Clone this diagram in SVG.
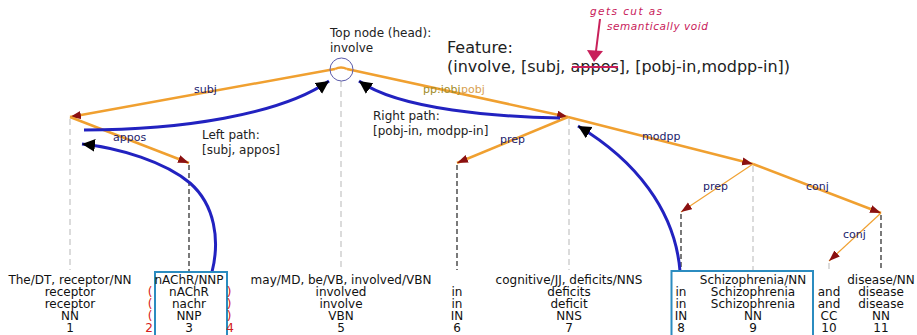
<svg xmlns="http://www.w3.org/2000/svg" width="917" height="335" viewBox="0 0 917 335">
  <style>
    text { font-family: "DejaVu Sans", "Liberation Sans", sans-serif; }
    .tok { font-size: 12px; fill: #111; text-anchor: middle; }
    .note { font-size: 12px; fill: #222; }
    .lbl { font-size: 11px; fill: #1c1c6c; }
    .paren { font-size: 12px; fill: #d42020; text-anchor: middle; }
    .dep { fill: none; stroke: #f0a030; stroke-width: 2.5; }
    .dep.thin { stroke-width: 1.2; }
    .guide { stroke: #c4c4c4; stroke-width: 1.2; stroke-dasharray: 6 4; }
    .guide.dark { stroke: #222; stroke-dasharray: 5 3; }
    .path { fill: none; stroke: #2222c0; stroke-width: 3; }
    .box { fill: none; stroke: #2b8cc0; stroke-width: 2; }
    .hand { font-size: 10.5px; font-style: italic; fill: #c8205a; }
  </style>
  <defs>
    <marker id="dephead" markerUnits="userSpaceOnUse" markerWidth="12" markerHeight="10" refX="11" refY="4" orient="auto">
      <path d="M0,0 L11,4 L0,8 Z" fill="#8b1010"/>
    </marker>
    <marker id="pathhead" markerUnits="userSpaceOnUse" markerWidth="16" markerHeight="14" refX="13" refY="6.5" orient="auto">
      <path d="M0,0 L13,6.5 L0,13 Z" fill="#000"/>
    </marker>
  </defs>

  <rect width="917" height="335" fill="#fff"/>

  <!-- vertical guides from each token up to its attachment point -->
  <g id="guides">
    <line class="guide" x1="70" y1="119" x2="70" y2="270"/>
    <line class="guide dark" x1="189" y1="165" x2="189" y2="272"/>
    <line class="guide" x1="341" y1="81" x2="341" y2="270"/>
    <line class="guide dark" x1="457" y1="165" x2="457" y2="270"/>
    <line class="guide" x1="569" y1="119" x2="569" y2="270"/>
    <line class="guide dark" x1="681" y1="214" x2="681" y2="270"/>
    <line class="guide" x1="753" y1="166" x2="753" y2="270"/>
    <line class="guide" x1="829" y1="263" x2="829" y2="270"/>
    <line class="guide dark" x1="881" y1="215" x2="881" y2="270"/>
  </g>

  <!-- dependency arcs and the two extracted paths -->
  <g id="connectors">
    <path class="dep" d="M335,69 Q341,66 347,69"/>
    <path class="dep" d="M335,69 L70,117" marker-end="url(#dephead)"/>
    <path class="dep" d="M347,69 L568,117" marker-end="url(#dephead)"/>
    <path class="dep" d="M70,117 L189,163" marker-end="url(#dephead)"/>
    <path class="dep" d="M568,117 L457,163" marker-end="url(#dephead)"/>
    <path class="dep" d="M568,117 L753,164" marker-end="url(#dephead)"/>
    <path class="dep thin" d="M753,164 L681,212" marker-end="url(#dephead)"/>
    <path class="dep" d="M753,164 L881,213" marker-end="url(#dephead)"/>
    <path class="dep thin" d="M881,213 L829,261" marker-end="url(#dephead)"/>

    <text class="lbl" x="194" y="93">subj</text>
    <text class="lbl" x="113" y="141">appos</text>
    <text class="lbl" x="423" y="93" style="fill:#a08c28">pp:iobj</text>
    <text class="lbl" x="461" y="93" style="fill:#d8a050">pobj</text>
    <text class="lbl" x="500" y="143">prep</text>
    <text class="lbl" x="642" y="140">modpp</text>
    <text class="lbl" x="703" y="190">prep</text>
    <text class="lbl" x="806" y="190">conj</text>
    <text class="lbl" x="843" y="238">conj</text>

    <path class="path" d="M84,130 C180,130 280,115 329,81" marker-end="url(#pathhead)"/>
    <path class="path" d="M212,272 C220,240 215,205 190,183 C165,162 120,148 82,144" marker-end="url(#pathhead)"/>
    <path class="path" d="M560,118 C500,117 400,110 359,81" marker-end="url(#pathhead)"/>
    <path class="path" d="M680,271 C675,210 635,160 578,126" marker-end="url(#pathhead)"/>
  </g>

  <!-- head of the sentence -->
  <g id="top-node">
    <circle cx="341.5" cy="69.5" r="11.5" fill="none" stroke="#5a5aaa" stroke-width="1"/>
    <text class="note" x="330" y="37">Top node (head):</text>
    <text class="note" x="330" y="52">involve</text>
  </g>

  <g id="left-path-note">
    <text class="note" x="202" y="139">Left path:</text>
    <text class="note" x="202" y="154">[subj, appos]</text>
  </g>

  <g id="right-path-note">
    <text class="note" x="373" y="120">Right path:</text>
    <text class="note" x="373" y="135">[pobj-in, modpp-in]</text>
  </g>

  <g id="feature">
    <text x="447" y="53" font-size="16" fill="#222">Feature:</text>
    <text x="447" y="72" font-size="16" fill="#222">(involve, [subj, appos], [pobj-in,modpp-in])</text>
    <line x1="572" y1="67" x2="618" y2="67" stroke="#c8205a" stroke-width="2"/>
  </g>

  <g id="annotation">
    <text class="hand" x="590" y="15" textLength="72" lengthAdjust="spacing">gets cut as</text>
    <text class="hand" x="607" y="30" textLength="101" lengthAdjust="spacing">semantically void</text>
    <line x1="600" y1="19" x2="596" y2="51" stroke="#c8205a" stroke-width="2"/>
    <path d="M587,50 L603,51 L594,62 Z" fill="#c8205a"/>
  </g>

  <!-- token columns: word/tag, form, lemma, POS, index -->
  <g id="tok-1">
    <text class="tok" x="70" y="284">The/DT, receptor/NN</text>
    <text class="tok" x="70" y="296">receptor</text>
    <text class="tok" x="70" y="308">receptor</text>
    <text class="tok" x="70" y="320">NN</text>
    <text class="tok" x="70" y="332">1</text>
  </g>
  <g id="tok-3">
    <rect class="box" x="155" y="272" width="72" height="70"/>
    <text class="tok" x="189" y="284">nAChR/NNP</text>
    <text class="tok" x="189" y="296">nAChR</text>
    <text class="tok" x="189" y="308">nachr</text>
    <text class="tok" x="189" y="320">NNP</text>
    <text class="tok" x="189" y="332">3</text>
    <text class="paren" x="150" y="296">(</text>
    <text class="paren" x="150" y="308">(</text>
    <text class="paren" x="150" y="320">(</text>
    <text class="paren" x="149" y="332">2</text>
    <text class="paren" x="229" y="296">)</text>
    <text class="paren" x="229" y="308">)</text>
    <text class="paren" x="229" y="320">)</text>
    <text class="paren" x="230" y="332">4</text>
  </g>
  <g id="tok-5">
    <text class="tok" x="341" y="284">may/MD, be/VB, involved/VBN</text>
    <text class="tok" x="341" y="296">involved</text>
    <text class="tok" x="341" y="308">involve</text>
    <text class="tok" x="341" y="320">VBN</text>
    <text class="tok" x="341" y="332">5</text>
  </g>
  <g id="tok-6">
    <text class="tok" x="457" y="296">in</text>
    <text class="tok" x="457" y="308">in</text>
    <text class="tok" x="457" y="320">IN</text>
    <text class="tok" x="457" y="332">6</text>
  </g>
  <g id="tok-7">
    <text class="tok" x="569" y="284">cognitive/JJ, deficits/NNS</text>
    <text class="tok" x="569" y="296">deficits</text>
    <text class="tok" x="569" y="308">deficit</text>
    <text class="tok" x="569" y="320">NNS</text>
    <text class="tok" x="569" y="332">7</text>
  </g>
  <g id="tok-8-9">
    <rect class="box" x="671.5" y="271" width="141.5" height="70"/>
  </g>
  <g id="tok-8">
    <text class="tok" x="681" y="296">in</text>
    <text class="tok" x="681" y="308">in</text>
    <text class="tok" x="681" y="320">IN</text>
    <text class="tok" x="681" y="332">8</text>
  </g>
  <g id="tok-9">
    <text class="tok" x="753" y="284">Schizophrenia/NN</text>
    <text class="tok" x="753" y="296">Schizophrenia</text>
    <text class="tok" x="753" y="308">Schizophrenia</text>
    <text class="tok" x="753" y="320">NN</text>
    <text class="tok" x="753" y="332">9</text>
  </g>
  <g id="tok-10">
    <text class="tok" x="829" y="296">and</text>
    <text class="tok" x="829" y="308">and</text>
    <text class="tok" x="829" y="320">CC</text>
    <text class="tok" x="829" y="332">10</text>
  </g>
  <g id="tok-11">
    <text class="tok" x="881" y="284">disease/NN</text>
    <text class="tok" x="881" y="296">disease</text>
    <text class="tok" x="881" y="308">disease</text>
    <text class="tok" x="881" y="320">NN</text>
    <text class="tok" x="881" y="332">11</text>
  </g>
</svg>
